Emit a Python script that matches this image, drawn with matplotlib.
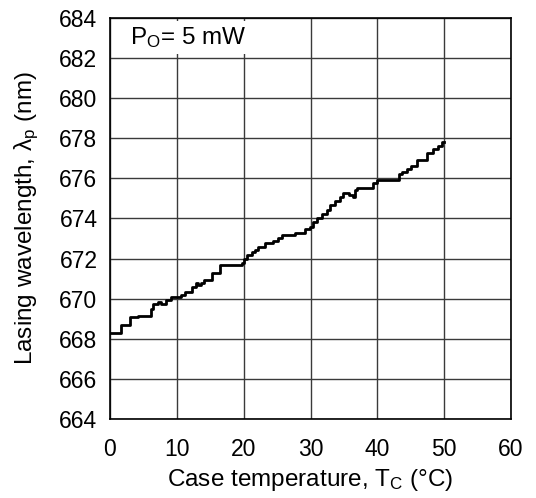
import matplotlib
matplotlib.use("Agg")
import matplotlib.pyplot as plt

plt.rcParams['font.family'] = ['Liberation Sans', 'DejaVu Sans']
plt.rcParams['mathtext.fontset'] = 'custom'
plt.rcParams['mathtext.rm'] = 'Liberation Sans'
plt.rcParams['mathtext.it'] = 'Liberation Sans:italic'

# step points (case temp degC, wavelength nm)
temp = [0, 1.65, 3.0, 4.2, 6.1, 6.4, 7.2, 7.7, 8.4, 9.1, 10.6, 11.2, 12.2, 12.9,
        13.2, 13.6, 14.0, 15.2, 16.5, 19.7, 20.1, 20.5, 21.2, 21.7, 22.2, 23.2,
        24.4, 25.1, 25.7, 27.7, 29.2, 29.9, 30.4, 30.9, 31.7, 32.4, 32.9, 33.7,
        34.4, 34.9, 35.7, 36.3, 36.7, 37.0, 39.4, 39.9, 43.2, 43.7, 44.4, 45.1,
        45.9, 47.4, 48.4, 49.1, 49.7, 50.0]
wavelength = [668.3, 668.69, 669.07, 669.15, 669.47, 669.74, 669.85, 669.74, 669.93,
              670.1, 670.2, 670.35, 670.57, 670.77, 670.7, 670.77, 670.93, 671.27,
              671.68, 671.8, 672.0, 672.18, 672.34, 672.43, 672.6, 672.76, 672.89,
              673.04, 673.2, 673.29, 673.46, 673.59, 673.84, 674.0, 674.22, 674.42,
              674.65, 674.89, 675.09, 675.29, 675.17, 675.09, 675.42, 675.54, 675.79,
              675.92, 676.2, 676.33, 676.45, 676.6, 676.92, 677.25, 677.45, 677.6,
              677.8, 677.8]

x_ticks = [0, 10, 20, 30, 40, 50, 60]
y_ticks = [664, 666, 668, 670, 672, 674, 676, 678, 680, 682, 684]

fig = plt.figure(figsize=(5.36, 4.98), dpi=100)
ax = fig.add_axes([0.2052, 0.1586, 0.7482, 0.8053])

ax.plot(temp, wavelength, drawstyle='steps-post', color='black', lw=2.0, zorder=2)

ax.set_xlim(0, 60)
ax.set_ylim(664, 684)
ax.set_xticks(x_ticks)
ax.set_yticks(y_ticks)
ax.grid(True, color='#3a3a3a', lw=1.0)
ax.set_axisbelow(True)
ax.tick_params(length=0, labelsize=16.5)
ax.tick_params(axis='x', pad=14)
ax.tick_params(axis='y', pad=9)
for s in ax.spines.values():
    s.set_linewidth(1.2)
    s.set_color('black')

ax.text(3.0, 682.7, r'P$_\mathrm{O}$= 5 mW', fontsize=17.5, va='baseline', zorder=3,
        bbox=dict(facecolor='white', edgecolor='none', pad=3))

ax.set_xlabel(r'Case temperature, T$_\mathrm{C}$ (°C)', fontsize=17.5, labelpad=4)
ax.set_ylabel(r'Lasing wavelength, λ$_\mathrm{p}$ (nm)', fontsize=17.5, labelpad=13)

fig.savefig('out.png', dpi=100)
